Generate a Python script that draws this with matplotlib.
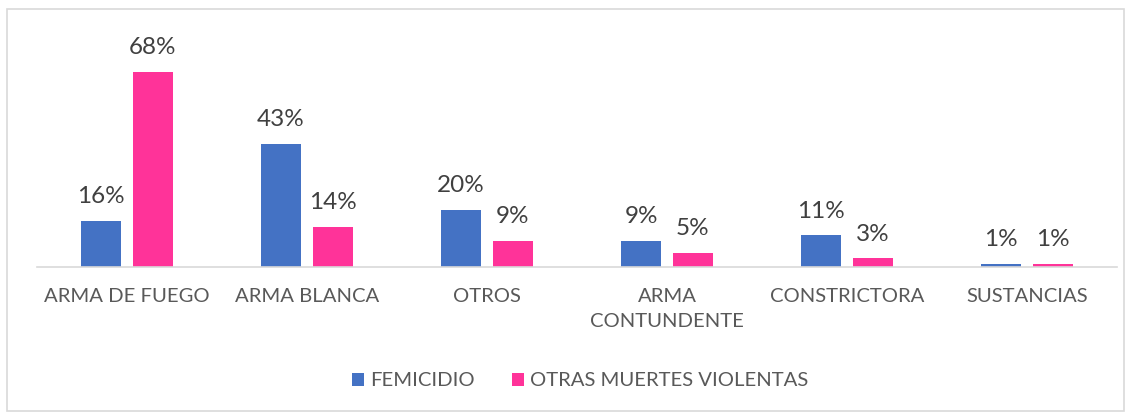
import matplotlib.pyplot as plt
import numpy as np
from matplotlib.patches import Rectangle

categories = ["ARMA DE FUEGO", "ARMA BLANCA", "OTROS", "ARMA\nCONTUNDENTE", "CONSTRICTORA", "SUSTANCIAS"]
femicidio = [16, 43, 20, 9, 11, 1]
otras = [68, 14, 9, 5, 3, 1]
series_names = ["FEMICIDIO", "OTRAS MUERTES VIOLENTAS"]

blue = "#4472C4"
pink = "#FF3399"
plt.rcParams['font.family'] = ['Lato', 'DejaVu Sans']

W, H = 1130, 412
fig = plt.figure(figsize=(W / 100, H / 100), dpi=100)

# plot area in pixels
left, right, base, top = 37, 1117, 267, 30
ax = fig.add_axes([left / W, (H - base) / H, (right - left) / W, (base - top) / H])
ax.set_xlim(-0.5, len(categories) - 0.5)
ax.set_ylim(0, (base - top) / 2.87)

x = np.arange(len(categories))
bw = 0.222
off = 0.144
b1 = ax.bar(x - off, femicidio, bw, color=blue, label=series_names[0])
b2 = ax.bar(x + off, otras, bw, color=pink, label=series_names[1])

for bars, vals in ((b1, femicidio), (b2, otras)):
    for rect, v in zip(bars, vals):
        ax.annotate(f"{v}%", (rect.get_x() + rect.get_width() / 2, v),
                    xytext=(0, 10), textcoords="offset points",
                    ha="center", va="bottom", fontsize=17.5, color="#404040")

for s in ("top", "right", "left"):
    ax.spines[s].set_visible(False)
ax.spines["bottom"].set_color("#D9D9D9")
ax.spines["bottom"].set_linewidth(1.2)
ax.set_yticks([])
ax.set_xticks(x)
ax.set_xticklabels(categories, fontsize=14.6, color="#595959", linespacing=1.6)
ax.tick_params(axis="x", length=0, pad=15)

fig.legend(loc="center", bbox_to_anchor=(580 / W, (H - 381) / H), ncol=2, frameon=False,
           fontsize=14.6, labelcolor="#595959", handlelength=0.6, handleheight=0.6,
           handletextpad=0.3, columnspacing=1.85)

fig.patches.append(Rectangle((7 / W, 1 / H), (1124 - 7) / W, (H - 10) / H,
                             transform=fig.transFigure, fill=False,
                             edgecolor="#D9D9D9", linewidth=1.2))

fig.savefig("out.png", dpi=100, facecolor="white")
